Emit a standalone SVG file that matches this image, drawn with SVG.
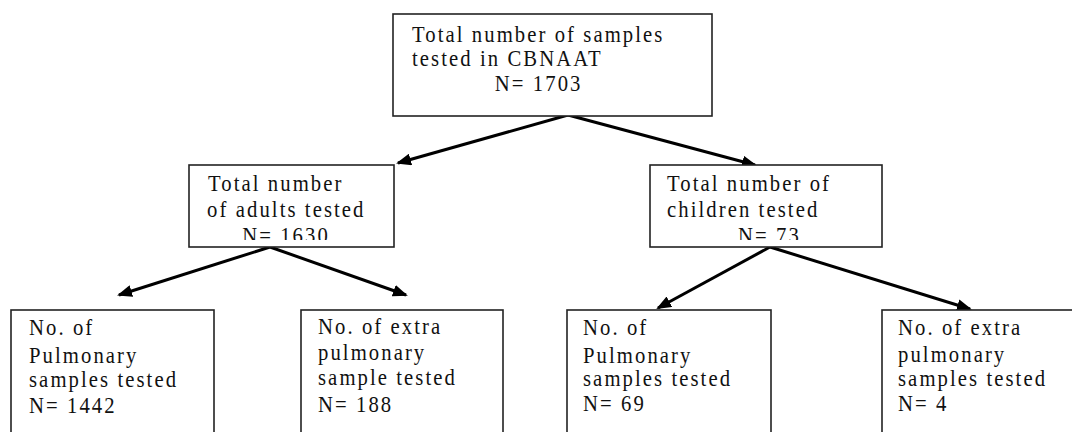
<svg xmlns="http://www.w3.org/2000/svg" width="1072" height="432" viewBox="0 0 1072 432">
<style>
.box{fill:#fff;stroke:#222;stroke-width:1.6}
.t{font-family:"Liberation Serif","Times New Roman",serif;font-size:23px;letter-spacing:2.3px;fill:#111}
.c{stroke:#000;stroke-width:3;fill:none}
</style>
<defs>
<marker id="ah" markerUnits="userSpaceOnUse" markerWidth="16" markerHeight="12" refX="13" refY="6" orient="auto">
<path d="M0,0 L15,6 L0,12 z" fill="#000"/>
</marker>
<clipPath id="clipA"><rect x="189" y="165" width="205" height="75"/></clipPath>
<clipPath id="clipC"><rect x="650" y="165" width="232" height="75"/></clipPath>
</defs>
<rect width="1072" height="432" fill="#fff"/>
<g id="connectors">
<line class="c" x1="568" y1="115" x2="398" y2="163" marker-end="url(#ah)"/>
<line class="c" x1="568" y1="115" x2="755" y2="165" marker-end="url(#ah)"/>
<line class="c" x1="270" y1="247" x2="119" y2="295" marker-end="url(#ah)"/>
<line class="c" x1="270" y1="247" x2="406" y2="295" marker-end="url(#ah)"/>
<line class="c" x1="770" y1="247" x2="658" y2="308" marker-end="url(#ah)"/>
<line class="c" x1="770" y1="247" x2="970" y2="309" marker-end="url(#ah)"/>
</g>
<g id="n-total">
<rect class="box" x="393" y="14" width="319" height="102"/>
<text class="t" transform="translate(412,42) scale(0.9,1)"><tspan x="0" y="0">Total number of samples</tspan><tspan x="0" y="24">tested in CBNAAT</tspan><tspan x="92" y="49">N= 1703</tspan></text>
</g>
<g id="n-adults">
<rect class="box" x="189" y="165" width="205" height="82"/>
<g clip-path="url(#clipA)">
<text class="t" transform="translate(208,191) scale(0.9,1)"><tspan x="0" y="0">Total number</tspan><tspan x="-1" y="26">of adults tested</tspan><tspan x="38" y="52">N= 1630</tspan></text>
</g>
</g>
<g id="n-children">
<rect class="box" x="650" y="165" width="232" height="82"/>
<g clip-path="url(#clipC)">
<text class="t" transform="translate(667,191) scale(0.9,1)"><tspan x="0" y="0">Total number of</tspan><tspan x="0" y="26">children tested</tspan><tspan x="79" y="52">N= 73</tspan></text>
</g>
</g>
<g id="n-adult-pulm">
<rect class="box" x="11" y="310" width="203" height="140"/>
<text class="t" transform="translate(29,335) scale(0.9,1)"><tspan x="0" y="0">No. of</tspan><tspan x="0" y="28">Pulmonary</tspan><tspan x="0" y="52">samples tested</tspan><tspan x="0" y="78">N= 1442</tspan></text>
</g>
<g id="n-adult-extra">
<rect class="box" x="301" y="310" width="202" height="140"/>
<text class="t" transform="translate(318,334) scale(0.9,1)"><tspan x="0" y="0">No. of extra</tspan><tspan x="0" y="26">pulmonary</tspan><tspan x="0" y="51">sample tested</tspan><tspan x="0" y="78">N= 188</tspan></text>
</g>
<g id="n-child-pulm">
<rect class="box" x="567" y="310" width="204" height="140"/>
<text class="t" transform="translate(583,335) scale(0.9,1)"><tspan x="0" y="0">No. of</tspan><tspan x="0" y="28">Pulmonary</tspan><tspan x="0" y="51">samples tested</tspan><tspan x="0" y="76">N= 69</tspan></text>
</g>
<g id="n-child-extra">
<rect class="box" x="882" y="310" width="200" height="140"/>
<text class="t" transform="translate(898,335) scale(0.9,1)"><tspan x="0" y="0">No. of extra</tspan><tspan x="0" y="27">pulmonary</tspan><tspan x="0" y="51">samples tested</tspan><tspan x="0" y="76">N= 4</tspan></text>
</g>
</svg>
